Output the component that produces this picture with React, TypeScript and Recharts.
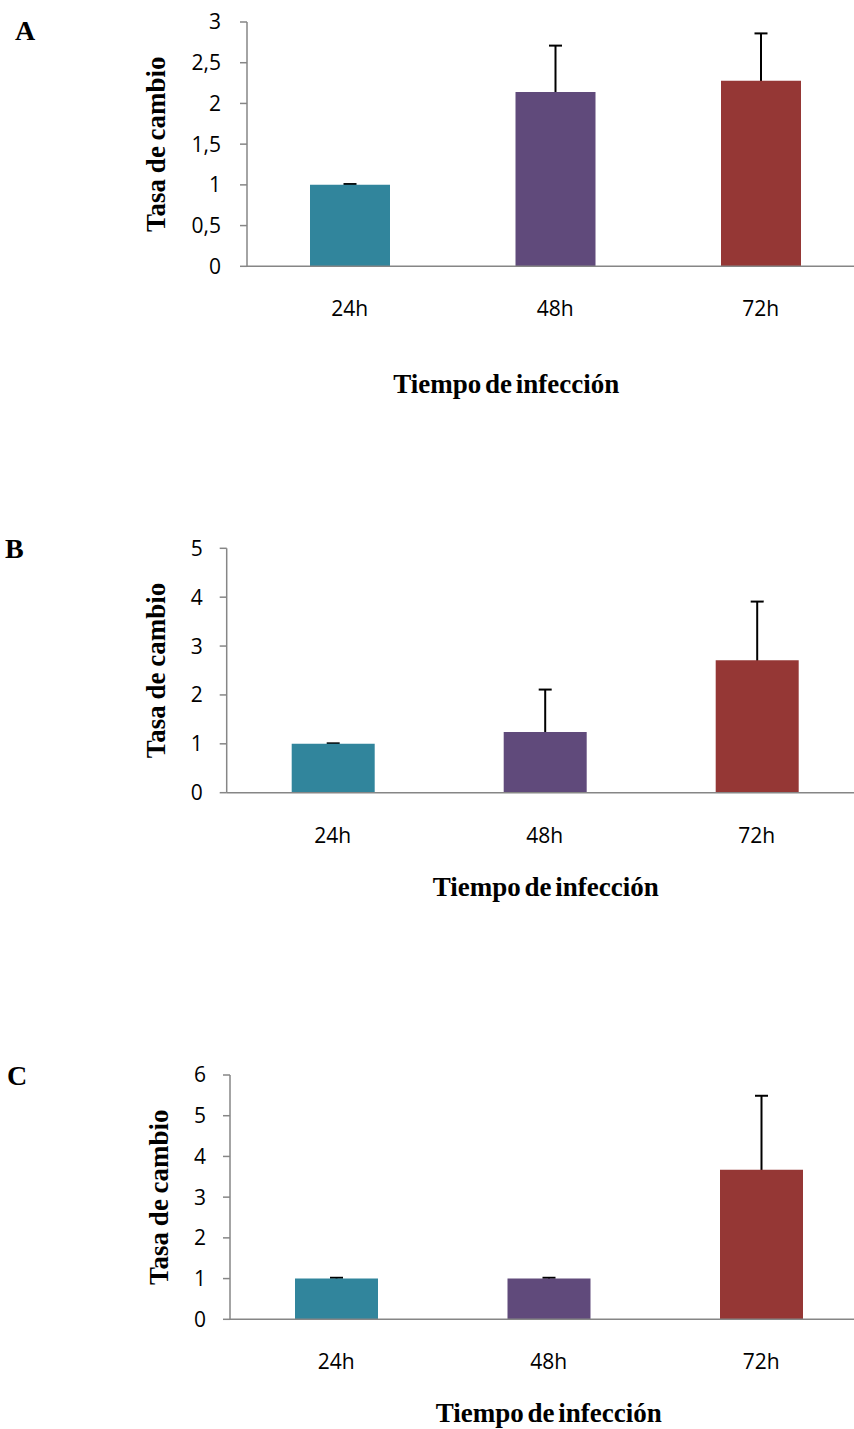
import React from 'react';
import { BarChart, Bar, XAxis, YAxis, ErrorBar, Cell, Label } from 'recharts';

// ---- data ----
const categories = ['24h', '48h', '72h'];
const barColors = ['#31859C', '#604A7B', '#953735'];

const valuesA = [1.0, 2.14, 2.28];
const errorsA = [0.01, 0.57, 0.58];
const ticksA = [0, 0.5, 1, 1.5, 2, 2.5, 3];

const valuesB = [1.0, 1.24, 2.71];
const errorsB = [0.01, 0.87, 1.2];
const ticksB = [0, 1, 2, 3, 4, 5];

const valuesC = [1.0, 1.0, 3.67];
const errorsC = [0.02, 0.02, 1.82];
const ticksC = [0, 1, 2, 3, 4, 5, 6];

const panelLetters = ['A', 'B', 'C'];
const yTitle = 'Tasa de cambio';
const xTitle = 'Tiempo de infección';

// lower whisker tucked inside the bar (hidden behind the coloured bar)
const HIDDEN_LOWER = 0.04;

const SERIF = '"Liberation Serif", "Times New Roman", serif';
const SANS = '"Open Sans", "Noto Sans", sans-serif';
const AXIS_COLOR = '#868686';
const CHART_W = 880;

const fmtComma = (v: number) => String(v).replace('.', ',');

type PanelProps = {
  values: number[];
  errors: number[];
  ticks: number[];
  top: number;
  height: number;
  plotTop: number;
  plotBottom: number;
  plotLeft: number;
  plotRight: number;
  barSize: number;
  yTickMargin: number;
  yTitleOffset: number;
  xTitleDx: number;
  xTitleDy: number;
};

function Panel(p: PanelProps) {
  const rows = categories.map((c, i) => ({
    name: c,
    value: p.values[i],
    err: [HIDDEN_LOWER, p.errors[i]],
  }));
  const max = p.ticks[p.ticks.length - 1];

  const yTitleContent = (props: any) => {
    const vb = props.viewBox || {};
    const axisX = vb.x + vb.width;
    const cy = vb.y + vb.height / 2;
    const bx = axisX + p.yTitleOffset;
    return (
      <text
        x={bx}
        y={cy}
        transform={`rotate(-90, ${bx}, ${cy})`}
        textAnchor="middle"
        fontFamily={SERIF}
        fontWeight="bold"
        fontSize={27}
        wordSpacing={-1}
        fill="#000"
      >
        {yTitle}
      </text>
    );
  };

  const xTitleContent = (props: any) => {
    const vb = props.viewBox || {};
    const cx = vb.x + vb.width / 2 + p.xTitleDx;
    const by = vb.y + p.xTitleDy;
    return (
      <text
        x={cx}
        y={by}
        textAnchor="middle"
        fontFamily={SERIF}
        fontWeight="bold"
        fontSize={27}
        wordSpacing={-3}
        fill="#000"
      >
        {xTitle}
      </text>
    );
  };

  return (
    <div style={{ position: 'absolute', left: 0, top: p.top, width: CHART_W, height: p.height }}>
      <BarChart
        width={CHART_W}
        height={p.height}
        data={rows}
        margin={{ top: p.plotTop, right: CHART_W - p.plotRight, bottom: 0, left: 0 }}
        barGap={-p.barSize}
        barSize={p.barSize}
      >
        <XAxis
          dataKey="name"
          height={p.height - p.plotBottom}
          tickLine={false}
          tickSize={6}
          tickMargin={29}
          axisLine={{ stroke: AXIS_COLOR, strokeWidth: 1.5 }}
          tick={{ fontFamily: SANS, fontSize: 21, fill: '#000' }}
          interval={0}
        >
          <Label content={xTitleContent} />
        </XAxis>
        <YAxis
          width={p.plotLeft}
          domain={[0, max]}
          ticks={p.ticks}
          interval={0}
          tickFormatter={fmtComma}
          tickSize={7}
          tickMargin={p.yTickMargin}
          axisLine={{ stroke: AXIS_COLOR, strokeWidth: 1.5 }}
          tickLine={{ stroke: AXIS_COLOR, strokeWidth: 1.5 }}
          tick={{ fontFamily: SANS, fontSize: 21, fill: '#000' }}
        >
          <Label content={yTitleContent} />
        </YAxis>
        <Bar dataKey="value" fill="transparent" isAnimationActive={false}>
          <ErrorBar
            dataKey="err"
            width={6.5}
            strokeWidth={2}
            stroke="#000"
            direction="y"
            {...({ zIndex: 250 } as any)}
          />
        </Bar>
        <Bar dataKey="value" isAnimationActive={false}>
          {rows.map((r, i) => (
            <Cell key={r.name} fill={barColors[i]} />
          ))}
        </Bar>
      </BarChart>
    </div>
  );
}

export default function App() {
  return (
    <div
      style={{
        position: 'fixed',
        left: 0,
        top: 0,
        width: 854,
        height: 1429,
        overflow: 'hidden',
        background: '#fff',
      }}
    >
      <Panel
        values={valuesA}
        errors={errorsA}
        ticks={ticksA}
        top={0}
        height={420}
        plotTop={22}
        plotBottom={266.3}
        plotLeft={247}
        plotRight={863.5}
        barSize={80}
        yTickMargin={19}
        yTitleOffset={-82}
        xTitleDx={-49}
        xTitleDy={127}
      />
      <Panel
        values={valuesB}
        errors={errorsB}
        ticks={ticksB}
        top={500}
        height={420}
        plotTop={48.3}
        plotBottom={292.7}
        plotLeft={226.7}
        plotRight={862.7}
        barSize={83}
        yTickMargin={17}
        yTitleOffset={-61.7}
        xTitleDx={1}
        xTitleDy={103.3}
      />
      <Panel
        values={valuesC}
        errors={errorsC}
        ticks={ticksC}
        top={1000}
        height={429}
        plotTop={75}
        plotBottom={319.3}
        plotLeft={230}
        plotRight={867.5}
        barSize={83}
        yTickMargin={17}
        yTitleOffset={-62}
        xTitleDx={0}
        xTitleDy={102.5}
      />
      <svg
        width={854}
        height={1429}
        style={{ position: 'absolute', left: 0, top: 0, pointerEvents: 'none' }}
      >
        <text x={15} y={40} fontFamily={SERIF} fontWeight="bold" fontSize={28} fill="#000">
          {panelLetters[0]}
        </text>
        <text x={5} y={558} fontFamily={SERIF} fontWeight="bold" fontSize={28} fill="#000">
          {panelLetters[1]}
        </text>
        <text x={7} y={1085} fontFamily={SERIF} fontWeight="bold" fontSize={28} fill="#000">
          {panelLetters[2]}
        </text>
      </svg>
    </div>
  );
}
